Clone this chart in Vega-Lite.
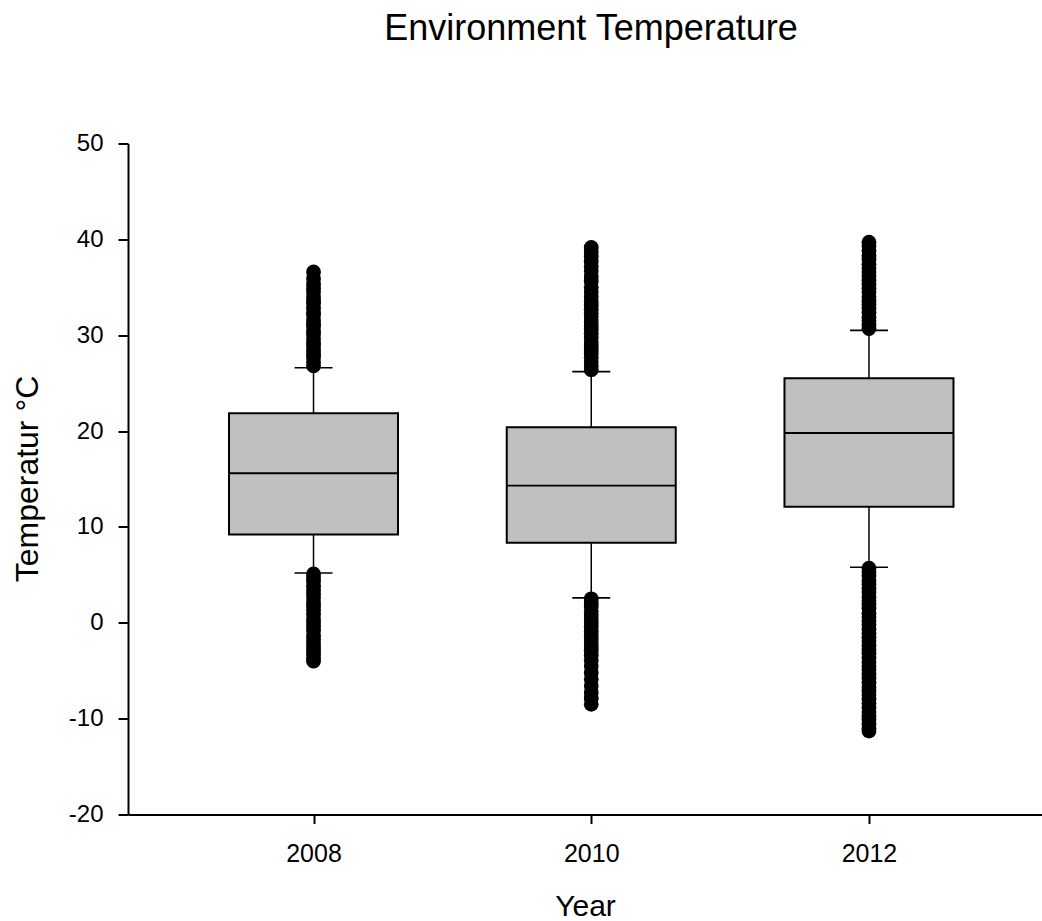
{
  "$schema": "https://vega.github.io/schema/vega-lite/v6.json",
  "width": 914,
  "height": 671,
  "autosize": {"type": "none"},
  "padding": {"left": 128, "top": 143.5, "right": 0, "bottom": 106.5},
  "background": "white",
  "config": {
    "font": "Liberation Sans",
    "view": {"stroke": null},
    "axis": {
      "grid": false,
      "domainColor": "black",
      "domainWidth": 2,
      "tickColor": "black",
      "tickWidth": 2,
      "labelColor": "black",
      "labelFont": "Liberation Sans",
      "titleFont": "Liberation Sans",
      "titleColor": "black",
      "titleFontWeight": "normal"
    }
  },
  "title": {
    "text": "Environment Temperature",
    "font": "Liberation Sans",
    "fontSize": 36,
    "fontWeight": "normal",
    "color": "black",
    "anchor": "middle",
    "frame": "group",
    "baseline": "alphabetic",
    "offset": 55.5,
    "dx": 6
  },
  "datasets": {
    "boxes": [
      {"year": 2008, "lower": 5.2, "q1": 9.2, "median": 15.6, "q3": 21.85, "upper": 26.6},
      {"year": 2010, "lower": 2.6, "q1": 8.35, "median": 14.3, "q3": 20.4, "upper": 26.2},
      {"year": 2012, "lower": 5.8, "q1": 12.1, "median": 19.8, "q3": 25.5, "upper": 30.5}
    ],
    "outliers": [
      {"year": 2008, "temp": 26.8}, {"year": 2008, "temp": 27.2}, {"year": 2008, "temp": 27.7},
      {"year": 2008, "temp": 28.0}, {"year": 2008, "temp": 28.4}, {"year": 2008, "temp": 28.9},
      {"year": 2008, "temp": 29.2}, {"year": 2008, "temp": 29.6}, {"year": 2008, "temp": 30.1},
      {"year": 2008, "temp": 30.4}, {"year": 2008, "temp": 30.9}, {"year": 2008, "temp": 31.2},
      {"year": 2008, "temp": 31.6}, {"year": 2008, "temp": 32.1}, {"year": 2008, "temp": 32.4},
      {"year": 2008, "temp": 32.8}, {"year": 2008, "temp": 33.3}, {"year": 2008, "temp": 33.6},
      {"year": 2008, "temp": 34.0}, {"year": 2008, "temp": 34.5}, {"year": 2008, "temp": 34.9},
      {"year": 2008, "temp": 35.3}, {"year": 2008, "temp": 35.9}, {"year": 2008, "temp": 36.6},
      {"year": 2008, "temp": 5.1}, {"year": 2008, "temp": 4.7}, {"year": 2008, "temp": 4.3},
      {"year": 2008, "temp": 3.8}, {"year": 2008, "temp": 3.4}, {"year": 2008, "temp": 3.0},
      {"year": 2008, "temp": 2.6}, {"year": 2008, "temp": 2.1}, {"year": 2008, "temp": 1.7},
      {"year": 2008, "temp": 1.3}, {"year": 2008, "temp": 0.9}, {"year": 2008, "temp": 0.4},
      {"year": 2008, "temp": 0.0}, {"year": 2008, "temp": -0.4}, {"year": 2008, "temp": -0.8},
      {"year": 2008, "temp": -1.3}, {"year": 2008, "temp": -1.7}, {"year": 2008, "temp": -2.1},
      {"year": 2008, "temp": -2.5}, {"year": 2008, "temp": -2.9}, {"year": 2008, "temp": -3.3},
      {"year": 2008, "temp": -3.7}, {"year": 2008, "temp": -4.0},
      {"year": 2010, "temp": 26.4}, {"year": 2010, "temp": 26.8}, {"year": 2010, "temp": 27.2},
      {"year": 2010, "temp": 27.7}, {"year": 2010, "temp": 28.1}, {"year": 2010, "temp": 28.5},
      {"year": 2010, "temp": 28.9}, {"year": 2010, "temp": 29.3}, {"year": 2010, "temp": 29.8},
      {"year": 2010, "temp": 30.2}, {"year": 2010, "temp": 30.6}, {"year": 2010, "temp": 31.0},
      {"year": 2010, "temp": 31.4}, {"year": 2010, "temp": 31.9}, {"year": 2010, "temp": 32.3},
      {"year": 2010, "temp": 32.7}, {"year": 2010, "temp": 33.1}, {"year": 2010, "temp": 33.5},
      {"year": 2010, "temp": 34.0}, {"year": 2010, "temp": 34.5}, {"year": 2010, "temp": 35.0},
      {"year": 2010, "temp": 35.6}, {"year": 2010, "temp": 36.1}, {"year": 2010, "temp": 36.7},
      {"year": 2010, "temp": 37.2}, {"year": 2010, "temp": 37.7}, {"year": 2010, "temp": 38.2},
      {"year": 2010, "temp": 38.7}, {"year": 2010, "temp": 39.15},
      {"year": 2010, "temp": 2.5}, {"year": 2010, "temp": 2.1}, {"year": 2010, "temp": 1.7},
      {"year": 2010, "temp": 1.2}, {"year": 2010, "temp": 0.8}, {"year": 2010, "temp": 0.4},
      {"year": 2010, "temp": 0.0}, {"year": 2010, "temp": -0.4}, {"year": 2010, "temp": -0.9},
      {"year": 2010, "temp": -1.3}, {"year": 2010, "temp": -1.7}, {"year": 2010, "temp": -2.1},
      {"year": 2010, "temp": -2.5}, {"year": 2010, "temp": -2.9}, {"year": 2010, "temp": -3.4},
      {"year": 2010, "temp": -3.9}, {"year": 2010, "temp": -4.5}, {"year": 2010, "temp": -5.2},
      {"year": 2010, "temp": -5.9}, {"year": 2010, "temp": -6.6}, {"year": 2010, "temp": -7.3},
      {"year": 2010, "temp": -7.9}, {"year": 2010, "temp": -8.5},
      {"year": 2012, "temp": 30.7}, {"year": 2012, "temp": 31.1}, {"year": 2012, "temp": 31.5},
      {"year": 2012, "temp": 31.9}, {"year": 2012, "temp": 32.4}, {"year": 2012, "temp": 32.8},
      {"year": 2012, "temp": 33.2}, {"year": 2012, "temp": 33.6}, {"year": 2012, "temp": 34.0},
      {"year": 2012, "temp": 34.5}, {"year": 2012, "temp": 34.9}, {"year": 2012, "temp": 35.3},
      {"year": 2012, "temp": 35.7}, {"year": 2012, "temp": 36.2}, {"year": 2012, "temp": 36.6},
      {"year": 2012, "temp": 37.0}, {"year": 2012, "temp": 37.4}, {"year": 2012, "temp": 37.9},
      {"year": 2012, "temp": 38.3}, {"year": 2012, "temp": 38.8}, {"year": 2012, "temp": 39.3},
      {"year": 2012, "temp": 39.7},
      {"year": 2012, "temp": 5.7}, {"year": 2012, "temp": 5.3}, {"year": 2012, "temp": 4.9},
      {"year": 2012, "temp": 4.4}, {"year": 2012, "temp": 4.0}, {"year": 2012, "temp": 3.6},
      {"year": 2012, "temp": 3.2}, {"year": 2012, "temp": 2.7}, {"year": 2012, "temp": 2.3},
      {"year": 2012, "temp": 1.9}, {"year": 2012, "temp": 1.5}, {"year": 2012, "temp": 1.0},
      {"year": 2012, "temp": 0.6}, {"year": 2012, "temp": 0.2}, {"year": 2012, "temp": -0.2},
      {"year": 2012, "temp": -0.7}, {"year": 2012, "temp": -1.1}, {"year": 2012, "temp": -1.5},
      {"year": 2012, "temp": -1.9}, {"year": 2012, "temp": -2.4}, {"year": 2012, "temp": -2.8},
      {"year": 2012, "temp": -3.2}, {"year": 2012, "temp": -3.6}, {"year": 2012, "temp": -4.1},
      {"year": 2012, "temp": -4.5}, {"year": 2012, "temp": -4.9}, {"year": 2012, "temp": -5.4},
      {"year": 2012, "temp": -5.8}, {"year": 2012, "temp": -6.2}, {"year": 2012, "temp": -6.7},
      {"year": 2012, "temp": -7.1}, {"year": 2012, "temp": -7.5}, {"year": 2012, "temp": -8.0},
      {"year": 2012, "temp": -8.4}, {"year": 2012, "temp": -8.8}, {"year": 2012, "temp": -9.3},
      {"year": 2012, "temp": -9.7}, {"year": 2012, "temp": -10.1}, {"year": 2012, "temp": -10.6},
      {"year": 2012, "temp": -11.0}, {"year": 2012, "temp": -11.3}
    ]
  },
  "layer": [
    {
      "data": {"name": "boxes"},
      "mark": {"type": "rule", "color": "black", "strokeWidth": 1.5},
      "encoding": {
        "x": {
          "field": "year", "type": "quantitative",
          "scale": {"domain": [2006.7, 2013.21], "nice": false, "zero": false},
          "axis": {
            "values": [2008, 2010, 2012],
            "format": "d",
            "tickSize": 9,
            "labelPadding": 18,
            "labelFontSize": 25,
            "title": "Year",
            "titleFontSize": 30,
            "titleBaseline": "alphabetic",
            "titleY": 101
          }
        },
        "y": {
          "field": "lower", "type": "quantitative",
          "scale": {"domain": [-20, 50], "nice": false, "zero": false},
          "axis": {
            "values": [-20, -10, 0, 10, 20, 30, 40, 50],
            "labelExpr": "'' + datum.value",
            "tickSize": 10,
            "labelPadding": 15,
            "labelFontSize": 24,
            "title": "Temperatur °C",
            "titleFontSize": 32,
            "titleAngle": -90,
            "titleBaseline": "alphabetic",
            "titleAlign": "center",
            "titleX": -91,
            "titleY": 335
          }
        },
        "y2": {"field": "upper"}
      }
    },
    {
      "data": {"name": "boxes"},
      "mark": {"type": "bar", "size": 169, "fill": "#c0c0c0", "stroke": "black", "strokeWidth": 2},
      "encoding": {
        "x": {"field": "year", "type": "quantitative"},
        "y": {"field": "q1", "type": "quantitative"},
        "y2": {"field": "q3"}
      }
    },
    {
      "data": {"name": "boxes"},
      "mark": {"type": "tick", "orient": "horizontal", "size": 169, "thickness": 1.8, "color": "black", "opacity": 1},
      "encoding": {
        "x": {"field": "year", "type": "quantitative"},
        "y": {"field": "median", "type": "quantitative"}
      }
    },
    {
      "data": {"name": "boxes"},
      "mark": {"type": "tick", "orient": "horizontal", "size": 38, "thickness": 1.6, "color": "black", "opacity": 1},
      "encoding": {
        "x": {"field": "year", "type": "quantitative"},
        "y": {"field": "lower", "type": "quantitative"}
      }
    },
    {
      "data": {"name": "boxes"},
      "mark": {"type": "tick", "orient": "horizontal", "size": 38, "thickness": 1.6, "color": "black", "opacity": 1},
      "encoding": {
        "x": {"field": "year", "type": "quantitative"},
        "y": {"field": "upper", "type": "quantitative"}
      }
    },
    {
      "data": {"name": "outliers"},
      "mark": {"type": "circle", "size": 219, "color": "black", "opacity": 1},
      "encoding": {
        "x": {"field": "year", "type": "quantitative"},
        "y": {"field": "temp", "type": "quantitative"}
      }
    },
    {
      "mark": {"type": "rule", "color": "black", "strokeWidth": 2},
      "encoding": {"y": {"datum": 50, "type": "quantitative"}}
    }
  ]
}
